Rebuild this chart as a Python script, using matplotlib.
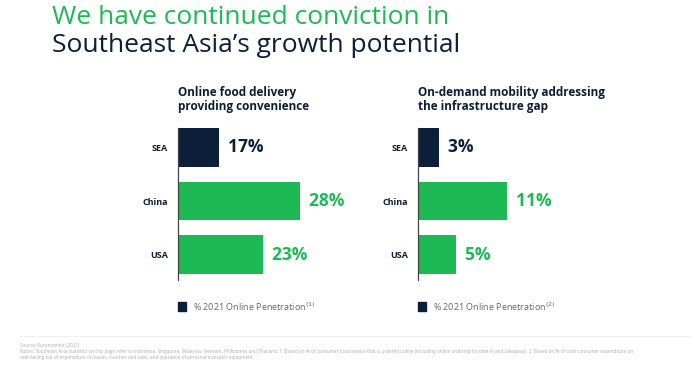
import numpy as np
import matplotlib.pyplot as plt

## data
categories = ["SEA", "China", "USA"]
food_values = [17, 28, 23]
mobility_values = [3, 11, 5]

green = "#1DB954"
navy = "#0B1F3A"
grey = "#666666"

W, H = 700, 368
fig = plt.figure(figsize=(7, 3.68), dpi=100)
plt.rcParams['font.family'] = ['Open Sans', 'DejaVu Sans']


def px_axes(x0, y0, x1, y1):
    # pixel box (top-left origin) -> axes
    return fig.add_axes([x0 / W, 1 - y1 / H, (x1 - x0) / W, (y1 - y0) / H])


def panel(ax, values, xlim, title, note):
    ypos = np.arange(len(categories))
    colors = [navy] + [green] * (len(categories) - 1)
    ax.barh(ypos, values, height=0.72, color=colors)
    ax.set_xlim(xlim)
    ax.set_ylim(2.47, -0.37)
    for s in ["top", "right", "bottom"]:
        ax.spines[s].set_visible(False)
    ax.spines["left"].set_color("#444444")
    ax.spines["left"].set_linewidth(0.9)
    ax.set_xticks([])
    ax.set_yticks(ypos)
    ax.set_yticklabels(categories, fontsize=6.5, fontweight="bold", color=navy)
    ax.tick_params(axis="y", length=0, pad=7)
    for i, v in enumerate(values):
        ax.text(v, i, "  %d%%" % v, va="center", ha="left",
                fontsize=12.5, fontweight="bold", color=colors[i])
    ax.text(0, 1.27, title, transform=ax.transAxes, fontsize=8.5,
            fontweight="bold", color=navy, va="top", ha="left",
            linespacing=1.1)
    # legend square + label
    ax.add_patch(plt.Rectangle((0, -0.205), 0.045, 0.058, transform=ax.transAxes,
                               color=navy, clip_on=False))
    ax.text(0.08, -0.175, "% 2021 Online Penetration" + note,
            transform=ax.transAxes, fontsize=6.5, color=grey, va="center",
            ha="left")


ax1 = px_axes(178, 127.5, 360, 280)
panel(ax1, food_values, (11.43, 36.2),
      "Online food delivery\nproviding convenience", "$^{(1)}$")

ax2 = px_axes(418, 127.5, 600, 280)
panel(ax2, mobility_values, (0.53, 21.9),
      "On-demand mobility addressing\nthe infrastructure gap", "$^{(2)}$")

## headline
fig.text(52 / W, 1 - 18 / H, "We have continued conviction in",
         fontsize=19, fontweight="medium", color=green, va="center", ha="left")
fig.text(52 / W, 1 - 45 / H, "Southeast Asia\u2019s growth potential",
         fontsize=19, fontweight="medium", color=navy, va="center", ha="left")

## footer
fig.add_artist(plt.Line2D([20 / W, 690 / W], [1 - 336 / H, 1 - 336 / H],
                          color="#eeeeee", linewidth=0.6))
foot_color = "#aaaaaa"
fig.text(20 / W, 1 - 345 / H, "Source: Euromonitor (2021)",
         fontsize=3.3, color=foot_color, va="center")
fig.text(20 / W, 1 - 351 / H,
         "Notes: Southeast Asia statistics on this page refer to Indonesia, Singapore, Malaysia, Vietnam, Philippines and Thailand. "
         "1. Based on % of consumer food service that is ordered online (including online ordering for dine-in and takeaway). "
         "2. Based on % of total consumer expenditure on",
         fontsize=3.3, color=foot_color, va="center")
fig.text(20 / W, 1 - 357 / H,
         "ride-hailing out of expenditure on buses, coaches and taxis, and operation of personal transport equipment.",
         fontsize=3.3, color=foot_color, va="center")

plt.savefig("out.png", dpi=100)
